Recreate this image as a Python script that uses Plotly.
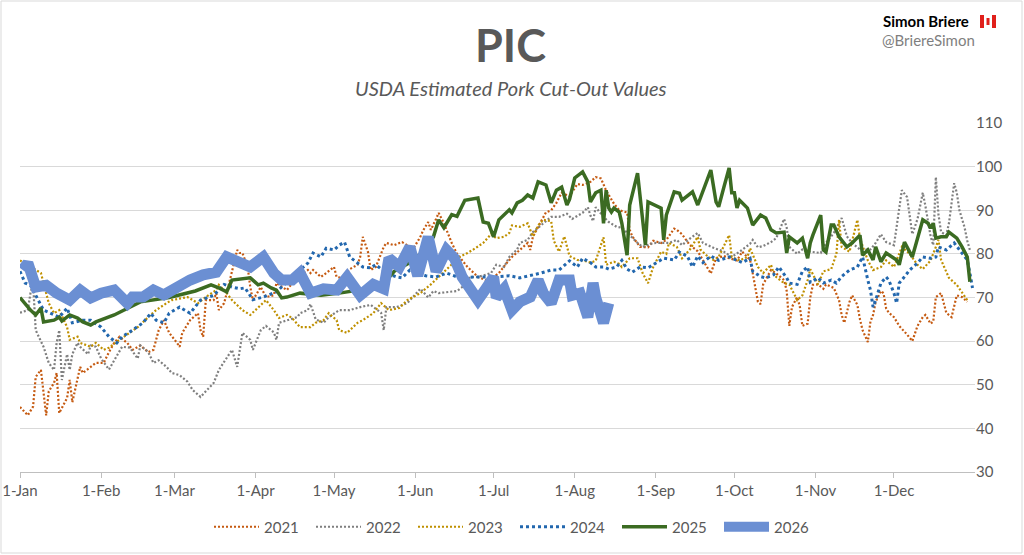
import pandas as pd
import plotly.graph_objects as go

# x values are day-of-year offsets from 1-Jan
days_2021 = [0, 3, 5, 6, 8, 9, 10, 11, 13, 14, 15, 18, 19, 20, 22, 23, 24, 27, 29, 32, 34, 36, 38, 41, 43, 46, 49, 51,
             53, 55, 57, 60, 61, 62, 65, 68, 69, 70, 71, 74, 75, 76, 78, 79, 81, 83, 84, 85, 87, 88, 89, 92, 94, 97,
             98, 102, 104, 106, 110, 111, 112, 115, 117, 120, 121, 123, 126, 129, 130, 131, 133, 134, 136, 139, 140,
             143, 145, 146, 148, 150, 153, 154, 156, 157, 159, 160, 162, 163, 165, 167, 171, 175, 178, 181, 183, 186,
             188, 191, 194, 195, 196, 199, 201, 203, 205, 207, 210, 213, 215, 218, 220, 222, 224, 227, 229, 232, 233,
             234, 237, 240, 242, 245, 247, 250, 251, 253, 256, 259, 261, 264, 266, 269, 271, 274, 276, 279, 280, 282,
             283, 284, 287, 289, 292, 293, 294, 295, 297, 298, 299, 301, 302, 303, 305, 307, 308, 311, 313, 314, 315,
             317, 318, 320, 321, 322, 324, 325, 326, 327, 329, 330, 331, 332, 334, 336, 339, 341, 343, 344, 345, 346,
             348, 349, 350, 352, 354, 356, 358, 360, 362]
vals_2021 = [44.9, 43, 45, 51.8, 53.4, 47.5, 43, 48.5, 50.4, 52.7, 43.5, 47, 51.1, 46, 51, 54.1, 52.7, 54.1, 55, 55,
             57.5, 59.6, 61, 59.6, 58, 59, 57.5, 58, 62.5, 64.8, 61.9, 59.6, 58.7, 61.9, 64.8, 66.4, 62.5, 61, 69.4,
             69.4, 71, 67.1, 68.7, 71, 76.3, 80.9, 80.2, 80.2, 77, 72.4, 69.4, 72.4, 70.1, 70.5, 73.3, 71.7, 73.3,
             74.7, 76.3, 75.6, 76.3, 74.7, 75.6, 77, 74.7, 74.5, 76.5, 77.5, 79.3, 83.9, 80.4, 76.3, 77, 81.6, 82.5,
             82, 82.5, 82.7, 82, 80.9, 83.9, 85.3, 87.3, 85.5, 88, 89.4, 87, 85.5, 82.5, 80, 77, 74.7, 74, 74.7, 75.6,
             77.9, 79.3, 80.9, 82.5, 80.9, 83.9, 87.3, 89.5, 90, 91.7, 94, 93.2, 96, 95.8, 96.5, 97.6, 97.3, 94.5,
             91.5, 90, 89.5, 85.5, 84, 81.6, 81.5, 83, 82.5, 83.2, 85.8, 85.5, 84.5, 82, 80.6, 78.5, 75.5, 79, 79.5,
             79, 78.5, 80.5, 78.6, 75.6, 69, 68.5, 73, 76.3, 75.5, 74, 71.5, 63.5, 67.8, 70.1, 68, 63.5, 64, 70, 72.9,
             73, 72, 73, 72.2, 69.4, 66, 64.2, 69, 70.5, 68.3, 65, 62.5, 59.8, 64.5, 66, 69, 71.5, 71, 67.5, 66.5,
             65.5, 63.5, 61.5, 60, 63.5, 64.5, 65.5, 66, 64, 64.5, 70.1, 71, 66.5, 65.5, 70.5, 70.1, 69]

days_2022 = [0, 3, 4, 5, 6, 9, 11, 13, 14, 15, 16, 18, 19, 20, 22, 23, 26, 27, 29, 31, 34, 37, 39, 42, 45, 46, 49, 51,
             53, 56, 58, 61, 64, 66, 69, 71, 74, 76, 79, 81, 83, 85, 88, 89, 92, 94, 97, 98, 99, 102, 106, 107, 110,
             111, 113, 116, 118, 122, 126, 130, 134, 138, 139, 140, 144, 148, 150, 153, 156, 158, 160, 163, 167, 169,
             172, 175, 180, 182, 185, 187, 190, 191, 194, 196, 199, 203, 206, 209, 211, 215, 217, 218, 219, 220, 223,
             225, 228, 230, 233, 236, 238, 241, 243, 246, 248, 251, 253, 256, 259, 261, 265, 269, 272, 275, 279, 280,
             282, 284, 287, 289, 292, 293, 294, 297, 299, 302, 306, 308, 311, 314, 316, 318, 321, 325, 327, 329, 331,
             334, 335, 336, 337, 339, 340, 341, 343, 345, 346, 348, 349, 350, 351, 352, 354, 355, 357, 358, 359, 361,
             362, 363]
vals_2022 = [66.5, 67.1, 71, 73.3, 62.5, 58.7, 55, 53.4, 59.6, 62.5, 51.1, 57, 53.4, 57, 59.6, 58.7, 57, 59, 58.7, 56,
             53.5, 56.5, 58.7, 58.5, 56, 59, 57.5, 55, 55.6, 54.1, 52.7, 52.2, 50.7, 48.8, 47.2, 48.5, 50.4, 53.4, 56,
             58, 54.1, 61.9, 60.3, 58, 62.5, 63.5, 62, 60.3, 64.2, 64.8, 65.5, 66.4, 67.1, 68.5, 65, 64.2, 65.5, 67.1,
             67.1, 67.8, 68.3, 66.5, 62.5, 67.8, 67.8, 68.7, 70.1, 72, 70, 71.5, 71, 71.2, 71.5, 72.4, 74.7, 74.7,
             75.6, 77.5, 77, 79.3, 81, 82.5, 83.2, 85, 86.5, 88.5, 88.5, 89.2, 88, 89.4, 90.7, 88.8, 87.5, 90.7, 88.5,
             87.3, 86.2, 86, 84.3, 82.5, 81.6, 82.3, 82.5, 82.5, 82.5, 83.2, 82, 83.5, 84.8, 82.5, 81.4, 80.5, 79.3,
             80.5, 82.3, 83.2, 81.5, 81.8, 82.7, 83.6, 88, 86, 81.6, 80, 81, 80.5, 80.2, 82.5, 84.8, 88.2, 84, 82.5,
             81, 81, 82.5, 84.5, 82.7, 82, 86, 90, 94.6, 93, 89, 84.5, 88, 94, 91, 84, 82, 97.6, 89, 85, 84.3, 87,
             96.2, 94, 90, 86, 83, 80.9]

days_2023 = [0, 4, 8, 9, 11, 13, 15, 18, 19, 22, 23, 27, 29, 32, 34, 38, 42, 45, 49, 52, 56, 58, 64, 68, 71, 75, 76,
             79, 81, 85, 88, 91, 94, 97, 99, 102, 104, 107, 111, 113, 116, 118, 121, 122, 125, 129, 131, 135, 138,
             141, 145, 148, 150, 153, 157, 160, 164, 168, 171, 173, 177, 180, 182, 185, 187, 188, 191, 194, 196, 198,
             200, 203, 204, 206, 208, 210, 213, 215, 218, 220, 223, 224, 227, 229, 230, 233, 236, 238, 240, 242, 245,
             247, 248, 251, 253, 256, 259, 260, 263, 265, 267, 271, 272, 275, 278, 279, 282, 284, 287, 288, 289, 292,
             294, 297, 299, 301, 302, 305, 307, 310, 312, 313, 314, 317, 320, 321, 324, 326, 329, 331, 334, 337, 340,
             343, 345, 348, 350, 351, 352, 355, 358, 360, 362]
vals_2023 = [78.5, 77, 75.6, 73.3, 68.7, 66.4, 67.1, 63.2, 60.3, 61, 59.6, 58.7, 59.6, 58, 58.5, 60.3, 61.9, 63.2,
             65.5, 67.1, 68.7, 69.4, 70.1, 68.7, 70.1, 71.7, 72.9, 71, 69.4, 67.1, 66, 67.8, 69.4, 67.1, 65.3, 66,
             65.3, 63.2, 63.2, 64.2, 64.8, 66.4, 64.8, 62.5, 61.9, 64.2, 64.8, 66.4, 68.7, 67.1, 67.6, 69.4, 70.1, 71,
             73, 74.7, 77, 79.3, 80.2, 80.9, 82.5, 84.5, 83.6, 83.9, 84.8, 86.5, 86.2, 87, 84, 86.5, 87.8, 87.5, 83,
             80.5, 84, 79.5, 78.6, 78.5, 78, 78.4, 83.8, 77.5, 78.2, 77.7, 77, 79, 79, 75.5, 73.3, 77, 80.5, 80, 82.5,
             81.6, 79, 81, 83.9, 81, 79.3, 78.6, 79.3, 84.3, 79.3, 78.5, 79.3, 81.3, 77, 75.6, 77.5, 75.6, 74.7, 73.3,
             73, 69.4, 70.5, 74, 76.5, 73, 76, 76.5, 80, 87.8, 81.6, 80.5, 87.8, 83.5, 78.5, 76.3, 77, 78.5, 77, 81.6,
             80, 77.5, 76.5, 78.5, 81.6, 83.2, 78.6, 74.5, 72.9, 71, 69.4]

days_2024 = [0, 2, 4, 9, 11, 15, 18, 20, 24, 27, 31, 34, 37, 39, 43, 47, 50, 52, 55, 57, 61, 65, 69, 74, 78, 81, 84,
             86, 89, 93, 98, 103, 107, 110, 112, 115, 117, 120, 122, 124, 126, 129, 131, 134, 136, 140, 144, 146,
             149, 152, 155, 159, 163, 168, 174, 181, 187, 191, 195, 199, 203, 206, 210, 213, 215, 218, 220, 223, 225,
             228, 230, 232, 234, 237, 240, 243, 246, 250, 252, 255, 257, 259, 261, 264, 267, 271, 274, 276, 279, 280,
             283, 285, 288, 290, 293, 294, 297, 299, 301, 302, 305, 307, 310, 312, 314, 317, 320, 322, 324, 325, 326,
             327, 329, 331, 332, 334, 335, 336, 337, 340, 343, 345, 348, 350, 351, 354, 357, 359, 362, 363, 364]
vals_2024 = [76, 73.3, 72.8, 67.1, 66.6, 65.5, 67.6, 64.2, 64.8, 64.8, 63.2, 61, 59.6, 61, 62.5, 64.2, 66.4, 64.8,
             64.2, 66.4, 67.8, 66.4, 69.4, 70.5, 73, 72.4, 72, 72.2, 69.5, 70.1, 71.3, 74, 76.3, 77.9, 80.2, 79.3,
             81.3, 80.9, 82, 82.7, 79.3, 78, 77, 76.8, 77.5, 75.6, 74.7, 74.5, 76.3, 75.6, 75, 74.7, 75.6, 74.5, 74.7,
             74.7, 75, 74.5, 75, 75.6, 76.3, 76.3, 78.4, 77, 79, 78, 77, 77, 76.5, 77, 78.5, 76.5, 75.8, 77, 76.8, 78,
             79, 78.6, 80.4, 79.5, 77, 79.5, 78, 79.5, 78.5, 79.3, 78.5, 78, 79, 76, 74.8, 74.5, 75.2, 77, 74.5, 73.3,
             73, 76, 77, 73.5, 74.5, 73.3, 74, 73.3, 74.8, 76.3, 77, 79.3, 74, 71.7, 67.8, 69.4, 73.3, 74.7, 74, 71,
             68.7, 73.3, 74, 76.3, 77.9, 79.3, 79, 79.3, 81.6, 80.9, 82.5, 80.9, 78.6, 75.6, 72.2]

days_2025 = [0, 4, 6, 8, 9, 13, 15, 16, 19, 22, 24, 27, 29, 33, 36, 46, 57, 67, 73, 76, 79, 81, 84, 88, 91, 93, 96,
             98, 100, 102, 107, 115, 122, 130, 138, 143, 149, 153, 158, 160, 162, 165, 167, 170, 175, 177, 179, 181,
             183, 187, 188, 190, 192, 194, 196, 198, 201, 203, 205, 207, 209, 210, 212, 215, 217, 218, 220, 222, 223,
             224, 225, 226, 227, 229, 230, 232, 233, 236, 238, 239, 240, 245, 246, 247, 250, 252, 253, 256, 257, 259,
             261, 264, 266, 267, 269, 271, 272, 273, 274, 275, 278, 280, 283, 285, 287, 289, 292, 293, 294, 297, 299,
             301, 302, 303, 306, 307, 308, 310, 311, 313, 316, 318, 321, 322, 324, 326, 327, 329, 331, 335, 336, 338,
             341, 343, 345, 347, 348, 349, 350, 352, 354, 355, 358, 360, 362, 363]
vals_2025 = [70, 67.1, 66, 67.6, 64.4, 64.8, 65.5, 64.6, 66, 65.3, 64.4, 63.7, 64.4, 65.3, 66, 69, 70, 71.5, 72.9,
             72.2, 71.3, 74, 74.2, 74.5, 72.9, 73.3, 72.2, 71.7, 69.9, 70.1, 71, 70.5, 71, 71.7, 72.5, 76, 78, 80,
             83.9, 87.8, 86, 89, 88.6, 92.3, 92.8, 87.3, 87, 83.9, 87.8, 90.1, 89.4, 91.7, 92.3, 93.5, 92.8, 96.5,
             95.8, 91.7, 94.6, 95.3, 91.2, 92.5, 97.4, 98.8, 96.5, 91.9, 94, 94.6, 87, 94.6, 90.5, 89.6, 90.5, 89.6,
             87, 79.7, 91.2, 98.5, 88, 82, 91.9, 90.5, 83.2, 88.9, 94.2, 93.9, 92.3, 93.9, 94.2, 91.2, 94.6, 99.2,
             91.9, 90.8, 95.3, 99.7, 94, 94, 90.5, 92.3, 90.5, 86.6, 88.9, 88.2, 85.5, 84.8, 85, 80.2, 83.9, 82.5,
             83.6, 79, 82.5, 84.3, 88.9, 80.9, 80.4, 86.6, 86.6, 83.9, 81.6, 82.5, 84.3, 79.7, 80.9, 78.6, 81.6, 78.2,
             80.2, 78.6, 77.5, 82.7, 79.3, 83.6, 87.8, 87, 85.9, 87, 83.6, 83.9, 83.9, 85, 83.6, 81.6, 79.3, 73.6]

days_2026 = [1, 3, 6, 10, 14, 19, 23, 27, 31, 36, 41, 43, 47, 51, 55, 60, 65, 70, 75, 79, 84, 88, 93, 97, 100, 104,
             107, 111, 116, 121, 125, 130, 135, 139, 141, 145, 149, 152, 156, 159, 163, 166, 169, 175, 178, 181, 182,
             185, 188, 191, 195, 198, 200, 203, 206, 210, 211, 214, 217, 219, 220, 223, 225]
vals_2026 = [76.3, 77.9, 72.4, 72.8, 71, 69.4, 71.7, 69.9, 71, 71.7, 68.7, 70.1, 70.1, 71.7, 70.6, 72.4, 74, 75.2,
             75.8, 79.3, 78.1, 77, 79.3, 75.6, 74, 74, 75.6, 71, 72, 71.7, 74.7, 70.5, 73, 72, 79, 77, 81.6, 75, 83.9,
             76, 80.9, 79, 74.7, 69.4, 72, 74.7, 70, 72, 67.1, 69, 70.1, 74, 71, 68.7, 74, 74, 70.5, 71, 65.5, 73.3,
             70, 64.2, 68.7]

month_starts = ["2025-01-01", "2025-02-01", "2025-03-01", "2025-04-01", "2025-05-01", "2025-06-01",
                "2025-07-01", "2025-08-01", "2025-09-01", "2025-10-01", "2025-11-01", "2025-12-01"]
month_labels = ["1-Jan", "1-Feb", "1-Mar", "1-Apr", "1-May", "1-Jun",
                "1-Jul", "1-Aug", "1-Sep", "1-Oct", "1-Nov", "1-Dec"]

base = pd.Timestamp("2025-01-01")


def to_dates(days):
    return base + pd.to_timedelta(days, unit="D")


# name, x, y, colour, width, dash
series = [
    ("2021", days_2021, vals_2021, "#C55A11", 2.2, "2px,2px"),
    ("2022", days_2022, vals_2022, "#7F7F7F", 2.2, "2px,2px"),
    ("2023", days_2023, vals_2023, "#BF9000", 2.2, "2px,2px"),
    ("2024", days_2024, vals_2024, "#2267AE", 3, "3px,3px"),
    ("2025", days_2025, vals_2025, "#3B6B22", 3.5, "solid"),
    ("2026", days_2026, vals_2026, "#6B8FD3", 11, "solid"),
]

fig = go.Figure()
for name, d, v, col, w, dash in series:
    fig.add_trace(go.Scatter(x=to_dates(d), y=v, name=name, mode="lines",
                             line=dict(color=col, width=w, dash=dash, shape="linear")))

# plot area in pixels: x 20..975, y 123..472
L, R, T, B = 20, 975, 123, 472


def px(x):
    return (x - L) / (R - L)


def py(y):
    return (B - y) / (B - T)


fig.update_layout(
    width=1024, height=555,
    margin=dict(l=L, r=1024 - R, t=T, b=555 - B, autoexpand=False),
    paper_bgcolor="white", plot_bgcolor="white",
    font=dict(family="Lato, Carlito, Calibri, sans-serif", color="#595959", size=15),
    legend=dict(orientation="h", x=px(515), xanchor="center", y=py(527), yanchor="middle",
                font=dict(size=15, color="#595959"), itemwidth=45, bgcolor="rgba(0,0,0,0)",
                entrywidth=42, entrywidthmode="pixels", tracegroupgap=0),
    annotations=[
        dict(text="<b>PIC</b>", x=px(511), y=py(45), xref="paper", yref="paper", showarrow=False,
             xanchor="center", yanchor="middle", font=dict(size=45, color="#595959", family="Lato")),
        dict(text="<i>USDA Estimated Pork Cut-Out Values</i>", x=px(511), y=py(88), xref="paper",
             yref="paper", showarrow=False, xanchor="center", yanchor="middle",
             font=dict(size=20, color="#595959", family="Lato")),
        dict(text="<b>Simon Briere</b>", x=px(881), y=py(21), xref="paper", yref="paper", showarrow=False,
             xanchor="left", yanchor="middle", font=dict(size=15, color="#000000", family="Lato")),
        dict(text="@BriereSimon", x=px(880), y=py(40), xref="paper", yref="paper", showarrow=False,
             xanchor="left", yanchor="middle", font=dict(size=15, color="#7F7F7F", family="Lato")),
    ],
    shapes=[
        dict(type="rect", xref="paper", yref="paper", x0=px(1), x1=px(1022), y0=py(553), y1=py(1),
             line=dict(color="#D9D9D9", width=1), layer="below"),
        # small Canadian flag
        dict(type="rect", xref="paper", yref="paper", x0=px(980), x1=px(996), y0=py(28), y1=py(15),
             line=dict(width=0), fillcolor="#FFFFFF"),
        dict(type="rect", xref="paper", yref="paper", x0=px(980), x1=px(984), y0=py(28), y1=py(15),
             line=dict(width=0), fillcolor="#E0201B"),
        dict(type="rect", xref="paper", yref="paper", x0=px(992), x1=px(996), y0=py(28), y1=py(15),
             line=dict(width=0), fillcolor="#E0201B"),
        dict(type="rect", xref="paper", yref="paper", x0=px(986.5), x1=px(989.5), y0=py(25), y1=py(18),
             line=dict(width=0), fillcolor="#E0201B"),
    ],
)

fig.update_xaxes(type="date", range=["2025-01-01", "2025-12-31 23:00"], tickvals=month_starts,
                 ticktext=month_labels, showgrid=False, showline=True, linecolor="#BFBFBF", linewidth=1,
                 ticks="outside", ticklen=5, tickcolor="#BFBFBF", tickfont=dict(size=15, color="#595959"),
                 zeroline=False, automargin=False)
fig.update_yaxes(range=[30, 110], dtick=10, side="right", showgrid=True, gridcolor="#D9D9D9", gridwidth=1,
                 zeroline=False, showline=False, ticks="", tickfont=dict(size=15, color="#595959"),
                 automargin=False)

# page body has a default 8px margin; drop it so the chart sits at the window origin
fig.write_html("out.html", config=dict(displayModeBar=False),
               post_script="document.body.style.margin='0';")
